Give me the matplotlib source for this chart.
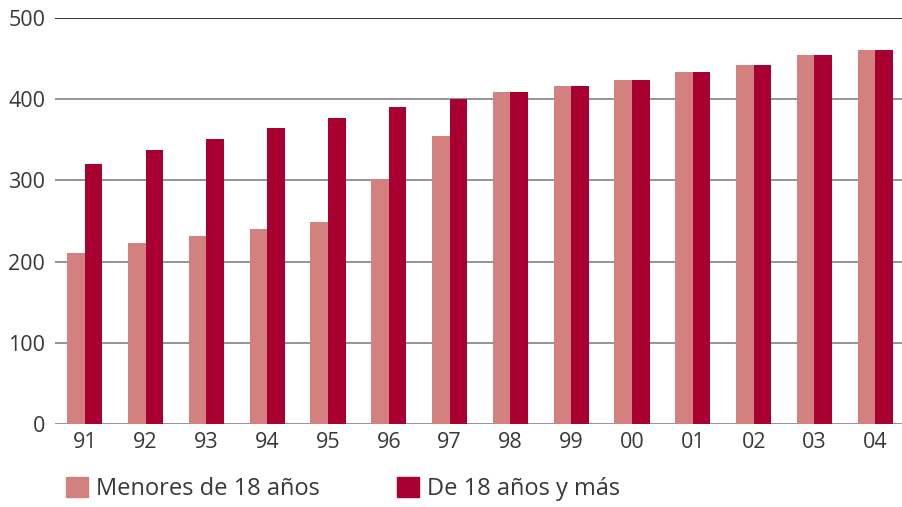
import matplotlib
matplotlib.use("Agg")
import matplotlib.pyplot as plt
import numpy as np
from matplotlib.patches import Patch

years = ["91", "92", "93", "94", "95", "96", "97", "98", "99", "00", "01", "02", "03", "04"]
menores = [211, 223, 231, 240, 249, 302, 355, 409, 416, 424, 434, 442, 454, 461]
mayores = [320, 337, 351, 365, 377, 390, 400, 409, 416, 424, 434, 442, 454, 461]
yticks = [0, 100, 200, 300, 400, 500]

c_light = "#d2817e"
c_dark = "#a80030"
txt = "#383838"

plt.rcParams['font.family'] = ['Open Sans', 'DejaVu Sans']

fig = plt.figure(figsize=(9.02, 5.07), dpi=100)
ax = fig.add_axes([0.061, 0.1637, 0.939, 0.8008])

x = np.arange(len(years))
w = 0.29
ax.bar(x - w / 2, menores, w, color=c_light, zorder=3)
ax.bar(x + w / 2, mayores, w, color=c_dark, zorder=3)

# horizontal grid lines, the top one darker
for y in yticks:
    col = "#222222" if y == 500 else "#8c8c8c"
    ax.axhline(y, color=col, lw=1.3, zorder=1)

ax.set_xlim(-0.49, 13.44)
ax.set_ylim(0, 500)
ax.set_xticks(x)
ax.set_xticklabels(years)
ax.set_yticks(yticks)
ax.tick_params(length=0, labelsize=15.5, labelcolor=txt)
ax.tick_params(axis="x", pad=6)
ax.tick_params(axis="y", pad=7)
for s in ax.spines.values():
    s.set_visible(False)

handles = [Patch(color=c_light, label="Menores de 18 años"),
           Patch(color=c_dark, label="De 18 años y más")]
fig.legend(handles=handles, loc="center left", bbox_to_anchor=(0.0732, 0.035), ncol=2,
           frameon=False, fontsize=17, handlelength=0.93, handleheight=0.93,
           handletextpad=0.34, columnspacing=3.26, labelcolor=txt,
           borderpad=0, borderaxespad=0)

fig.savefig("out.png", dpi=100)
